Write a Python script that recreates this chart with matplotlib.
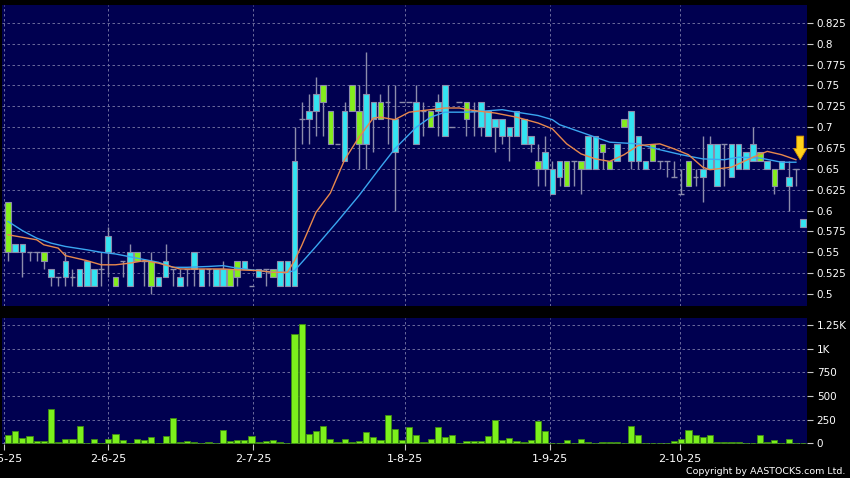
import numpy as np
import matplotlib.pyplot as plt

# daily candles (index = trading day)
opens = [0.61, 0.55, 0.55, 0.55, 0.55, 0.55, 0.52, 0.52, 0.52, 0.52,
         0.51, 0.51, 0.51, 0.53, 0.55, 0.52, 0.54, 0.51, 0.55, 0.54,
         0.54, 0.51, 0.52, 0.53, 0.51, 0.53, 0.53, 0.51, 0.53, 0.51,
         0.51, 0.53, 0.54, 0.53, 0.51, 0.52, 0.53, 0.53, 0.51, 0.51,
         0.51, 0.71, 0.71, 0.72, 0.75, 0.72, 0.68, 0.66, 0.75, 0.72,
         0.68, 0.71, 0.73, 0.73, 0.67, 0.73, 0.73, 0.68, 0.72, 0.72,
         0.72, 0.69, 0.70, 0.73, 0.73, 0.72, 0.70, 0.69, 0.70, 0.69,
         0.69, 0.69, 0.68, 0.68, 0.66, 0.65, 0.62, 0.64, 0.66, 0.66,
         0.66, 0.65, 0.65, 0.68, 0.66, 0.66, 0.71, 0.66, 0.66, 0.65,
         0.68, 0.66, 0.66, 0.64, 0.62, 0.66, 0.64, 0.64, 0.65, 0.63,
         0.68, 0.64, 0.65, 0.65, 0.66, 0.67, 0.65, 0.65, 0.65, 0.63,
         0.65, 0.58]
highs = [0.61, 0.56, 0.56, 0.55, 0.55, 0.55, 0.53, 0.52, 0.55, 0.53,
         0.53, 0.54, 0.53, 0.55, 0.58, 0.52, 0.54, 0.56, 0.55, 0.54,
         0.55, 0.52, 0.56, 0.53, 0.53, 0.53, 0.55, 0.53, 0.53, 0.53,
         0.54, 0.53, 0.54, 0.54, 0.51, 0.53, 0.53, 0.53, 0.54, 0.54,
         0.70, 0.73, 0.74, 0.76, 0.75, 0.72, 0.68, 0.73, 0.75, 0.75,
         0.79, 0.73, 0.74, 0.75, 0.75, 0.73, 0.73, 0.75, 0.73, 0.72,
         0.74, 0.75, 0.70, 0.73, 0.73, 0.73, 0.73, 0.72, 0.71, 0.71,
         0.70, 0.72, 0.71, 0.69, 0.68, 0.69, 0.66, 0.66, 0.66, 0.66,
         0.66, 0.69, 0.69, 0.68, 0.66, 0.68, 0.71, 0.72, 0.69, 0.66,
         0.68, 0.66, 0.66, 0.66, 0.65, 0.66, 0.65, 0.69, 0.69, 0.68,
         0.68, 0.68, 0.68, 0.67, 0.70, 0.67, 0.66, 0.65, 0.66, 0.66,
         0.65, 0.59]
lows = [0.54, 0.55, 0.52, 0.54, 0.54, 0.53, 0.51, 0.51, 0.51, 0.51,
        0.51, 0.51, 0.51, 0.51, 0.52, 0.51, 0.52, 0.51, 0.54, 0.51,
        0.50, 0.51, 0.52, 0.51, 0.51, 0.51, 0.51, 0.51, 0.51, 0.51,
        0.51, 0.51, 0.51, 0.53, 0.51, 0.52, 0.51, 0.52, 0.51, 0.51,
        0.51, 0.68, 0.68, 0.69, 0.69, 0.68, 0.68, 0.66, 0.72, 0.65,
        0.65, 0.67, 0.71, 0.68, 0.60, 0.73, 0.73, 0.68, 0.69, 0.70,
        0.69, 0.69, 0.70, 0.73, 0.69, 0.69, 0.69, 0.69, 0.67, 0.68,
        0.66, 0.69, 0.68, 0.67, 0.63, 0.63, 0.62, 0.63, 0.63, 0.63,
        0.62, 0.65, 0.65, 0.65, 0.65, 0.66, 0.70, 0.65, 0.65, 0.65,
        0.66, 0.65, 0.64, 0.64, 0.62, 0.63, 0.63, 0.61, 0.65, 0.63,
        0.63, 0.64, 0.65, 0.65, 0.66, 0.66, 0.65, 0.62, 0.65, 0.60,
        0.63, 0.58]
closes = [0.55, 0.56, 0.56, 0.55, 0.55, 0.54, 0.53, 0.52, 0.54, 0.52,
          0.53, 0.54, 0.53, 0.53, 0.57, 0.51, 0.54, 0.55, 0.54, 0.54,
          0.51, 0.52, 0.54, 0.53, 0.52, 0.53, 0.55, 0.53, 0.53, 0.53,
          0.53, 0.51, 0.52, 0.54, 0.51, 0.53, 0.53, 0.52, 0.54, 0.54,
          0.66, 0.71, 0.72, 0.74, 0.73, 0.68, 0.68, 0.72, 0.72, 0.68,
          0.74, 0.73, 0.71, 0.73, 0.71, 0.73, 0.73, 0.73, 0.72, 0.70,
          0.73, 0.75, 0.70, 0.73, 0.71, 0.72, 0.73, 0.72, 0.71, 0.71,
          0.70, 0.72, 0.71, 0.69, 0.65, 0.67, 0.65, 0.66, 0.63, 0.66,
          0.65, 0.69, 0.69, 0.67, 0.65, 0.68, 0.70, 0.72, 0.69, 0.66,
          0.66, 0.66, 0.66, 0.64, 0.62, 0.63, 0.64, 0.65, 0.68, 0.68,
          0.68, 0.68, 0.68, 0.67, 0.68, 0.66, 0.66, 0.63, 0.66, 0.64,
          0.65, 0.59]
volume = [88, 130, 60, 77, 21, 28, 359, 10, 46, 42,
          180, 3, 42, 0, 46, 95, 32, 0, 49, 35,
          70, 0, 77, 264, 10, 21, 10, 3, 10, 7,
          141, 28, 35, 35, 81, 18, 25, 35, 10, 3,
          1151, 1255, 99, 130, 180, 42, 18, 46, 10, 21,
          120, 70, 32, 296, 151, 35, 176, 88, 10, 42,
          169, 67, 88, 0, 21, 28, 21, 77, 246, 35,
          53, 25, 14, 35, 239, 134, 7, 0, 32, 0,
          49, 14, 7, 14, 14, 10, 0, 183, 88, 7,
          0, 0, 0, 28, 46, 141, 88, 67, 88, 10,
          18, 10, 10, 7, 0, 84, 10, 32, 0, 42,
          0, 0]

# moving averages at these day indices
ma10_x = [0, 2, 4, 5, 7, 8, 11, 13, 15, 17, 19, 21, 24, 28, 30, 32, 35, 37, 39,
          40, 41, 42, 43, 45, 47, 49, 51, 52, 54, 56, 58, 61, 63, 65, 68, 71,
          74, 76, 78, 80, 82, 84, 86, 88, 91, 93, 95, 97, 98, 101, 104, 106,
          108, 110]
ma10 = [0.571, 0.568, 0.565, 0.559, 0.555, 0.546, 0.540, 0.535, 0.535, 0.537,
        0.540, 0.537, 0.530, 0.530, 0.530, 0.529, 0.528, 0.526, 0.526,
        0.540, 0.558, 0.578, 0.598, 0.621, 0.661, 0.688, 0.711, 0.712, 0.709,
        0.718, 0.720, 0.723, 0.723, 0.720, 0.717, 0.712, 0.705, 0.698, 0.680,
        0.668, 0.662, 0.659, 0.667, 0.678, 0.680, 0.674, 0.667, 0.652, 0.649,
        0.652, 0.664, 0.671, 0.667, 0.661]
ma20_x = [0, 2, 4, 6, 8, 11, 13, 15, 18, 21, 23, 25, 28, 30, 32, 35, 37, 39,
          40, 43, 46, 49, 52, 54, 57, 59, 61, 64, 66, 69, 71, 74, 76, 77, 81,
          84, 88, 91, 94, 97, 100, 102, 105, 108, 110]
ma20 = [0.587, 0.576, 0.567, 0.561, 0.557, 0.553, 0.550, 0.548, 0.543, 0.538,
        0.532, 0.532, 0.533, 0.534, 0.531, 0.528, 0.526, 0.526, 0.528, 0.557,
        0.587, 0.618, 0.652, 0.674, 0.700, 0.712, 0.718, 0.718, 0.719, 0.721,
        0.718, 0.714, 0.709, 0.703, 0.691, 0.682, 0.680, 0.673, 0.667, 0.662,
        0.661, 0.664, 0.663, 0.658, 0.658]

date_pos = [-0.56, 14.0, 34.25, 55.4, 75.65, 93.8]
date_labels = ["2-5-25", "2-6-25", "2-7-25", "1-8-25", "1-9-25", "2-10-25"]
price_ticks = [0.5, 0.525, 0.55, 0.575, 0.6, 0.625, 0.65, 0.675, 0.7,
               0.725, 0.75, 0.775, 0.8, 0.825]
price_labels = ["0.5", "0.525", "0.55", "0.575", "0.6", "0.625", "0.65",
                "0.675", "0.7", "0.725", "0.75", "0.775", "0.8", "0.825"]
vol_ticks = [0, 250, 500, 750, 1000, 1250]
vol_labels = ["0", "250", "500", "750", "1K", "1.25K"]

BG = '#000050'
CYAN = '#33e4f2'
GREEN = '#84ee1c'
EDGE = '#8c8cab'
GRID = '#7a7aa8'

fig = plt.figure(figsize=(8.5, 4.78), dpi=100, facecolor='black')
ax = fig.add_axes([2/850, 1 - 306/478, 805/850, 301/478], facecolor=BG)
axv = fig.add_axes([2/850, 1 - 444/478, 805/850, 126/478], facecolor=BG, sharex=ax)

x = np.arange(len(closes))
o = np.array(opens)
c = np.array(closes)
flat = o == c
body_col = np.where(c > o, CYAN, GREEN)

ax.vlines(x, lows, highs, color=EDGE, lw=1, zorder=2)
ax.bar(x[~flat], np.abs(c - o)[~flat], bottom=np.minimum(o, c)[~flat],
       width=0.78, color=body_col[~flat], edgecolor=EDGE, lw=0.8, zorder=3)
ax.hlines(c[flat], x[flat] - 0.4, x[flat] + 0.4, color=EDGE, lw=1, zorder=3)

ax.plot(ma20_x, ma20, color='#3aa6f0', lw=1, zorder=4)
ax.plot(ma10_x, ma10, color='#e8884c', lw=1, zorder=4)

# yellow marker arrow on the last day
ax.annotate('', xy=(x[-1] - 0.4, ma10[-1]), xytext=(0, 17),
            textcoords='offset points',
            arrowprops=dict(arrowstyle='simple,head_length=0.8,head_width=0.95,tail_width=0.5',
                            fc='#ffd21a', ec='#d89400', lw=0.6,
                            shrinkA=0, shrinkB=0), zorder=6)

ax.set_xlim(-0.84, 111.55)
ax.set_ylim(0.4856, 0.8465)

axv.bar(x, volume, width=0.86, color='#7cf01c', edgecolor='#3e8c12', lw=0.6, zorder=3)
axv.set_ylim(-7, 1323)

for a in (ax, axv):
    for s in a.spines.values():
        s.set_visible(False)
    a.yaxis.tick_right()
    a.grid(True, color=GRID, ls=(0, (3, 3)), lw=0.6, zorder=0)
    a.set_axisbelow(True)
    a.tick_params(axis='y', colors='#c8c8c8', labelcolor='white',
                  length=4, width=0.8, pad=3, labelsize=7.5)

ax.set_yticks(price_ticks, price_labels)
axv.set_yticks(vol_ticks, vol_labels)
axv.set_xticks(date_pos, date_labels)
ax.tick_params(axis='x', length=0, labelbottom=False)
axv.tick_params(axis='x', colors='#c8c8c8', labelcolor='white',
                length=4, width=0.8, pad=3, labelsize=8)

fig.text(845/850, 1 - 471/478, "Copyright by AASTOCKS.com Ltd.",
         color='white', fontsize=6.8, ha='right', va='center')

fig.savefig('out.png', dpi=100, facecolor='black')
